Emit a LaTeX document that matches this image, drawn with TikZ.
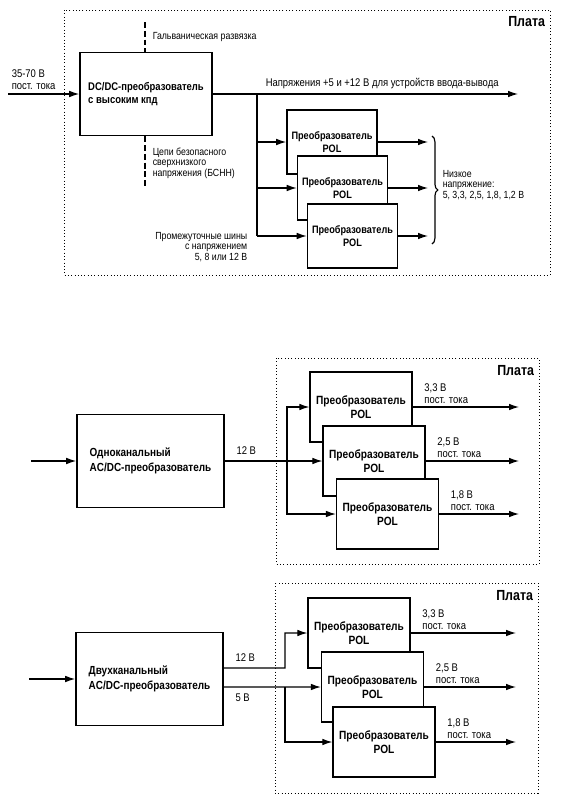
\documentclass[tikz,border=0pt]{standalone}
\usepackage{fontspec}
\setmainfont[FakeStretch=0.85]{Liberation Sans}
\usetikzlibrary{arrows.meta, positioning, decorations.pathreplacing}

\begin{document}
\begin{tikzpicture}[x=0.3mm,y=-0.3mm,line width=1pt,>={Latex[length=3mm,width=2mm]}]
  \tikzstyle{plata}=[draw,dotted,line width=0.8pt]
  \tikzstyle{platalabel}=[anchor=north east,inner sep=2pt,font=\bfseries\fontsize{12.5}{13}\selectfont]
  \tikzstyle{conv}=[draw,line width=1.4pt,fill=white,align=center,inner sep=2pt]
  \tikzstyle{pol}=[conv,font=\bfseries\fontsize{10.2}{12.5}\selectfont,minimum width=30.5mm,minimum height=21mm]
  \tikzstyle{polsmall}=[conv,font=\bfseries\fontsize{9.2}{10.5}\selectfont,minimum width=27mm,minimum height=19.2mm]
  \tikzstyle{acdc}=[conv,align=left,font=\bfseries\fontsize{10}{13}\selectfont,minimum width=44.1mm,minimum height=27.9mm]
  \tikzstyle{note}=[font=\fontsize{9.5}{10}\selectfont,align=left,inner sep=1pt]
  \tikzstyle{tiny}=[font=\fontsize{8.8}{9}\selectfont,align=left,inner sep=1pt]
  \tikzstyle{isolation}=[line width=1pt,dash pattern=on 5pt off 2.5pt]

  \useasboundingbox (0,0) rectangle (564,800);

  % board with DC/DC converter
  \draw[plata] (64,10) rectangle (550,275);
  \node[platalabel] (plata0) at (548,13) {Плата};

  \node[conv,align=left,font=\bfseries\fontsize{9.5}{10.5}\selectfont,
        minimum width=39.6mm,minimum height=24.9mm] (dcdc) at (146,94)
        {DC/DC-преобразователь\\с высоким кпд};
  \coordinate (in0) at (8,94);
  \draw[->] (in0) -- (dcdc);
  \node[note,anchor=south west] (vin) at (10,91) {35-70 В\\пост. тока};

  \coordinate (io) at (518,94);
  \draw[->] (dcdc) -- (io);
  \node[note,anchor=south west] (iotext) at (264,91)
        {Напряжения +5 и +12 В для устройств ввода-вывода};

  \coordinate (gal) at (145,22);
  \coordinate (safe) at (145,187);
  \draw[isolation] (gal) -- (gal |- dcdc.north);
  \draw[isolation] (safe |- dcdc.south) -- (safe);
  \node[tiny,anchor=west] (galtext) at (151,37) {Гальваническая развязка};
  \node[tiny,anchor=north west] (safetext) at (151,146)
        {Цепи безопасного\\сверхнизкого\\напряжения (БСНН)};

  \node[polsmall] (pa1) at (332,142)   {Преобразователь\\POL};
  \node[polsmall] (pa2) at (342.5,188) {Преобразователь\\POL};
  \node[polsmall] (pa3) at (352.5,236) {Преобразователь\\POL};

  \coordinate (b0) at (257,94);
  \coordinate (b1) at (257,142);
  \coordinate (b2) at (257,188);
  \coordinate (b3) at (257,236);
  \draw (b0) -- (b3);
  \coordinate (oa1) at (428,142);
  \coordinate (oa2) at (428,188);
  \coordinate (oa3) at (428,236);

  \path[->]
  (b1)  edge (pa1)
  (b2)  edge (pa2)
  (b3)  edge (pa3)
  (pa1) edge (oa1)
  (pa2) edge (oa2)
  (pa3) edge (oa3)
  ;

  \coordinate (br1) at (432,136);
  \coordinate (br2) at (432,244);
  \draw[decorate,decoration={brace,amplitude=5pt}] (br1) -- (br2);
  \node[tiny,anchor=west] (low) at (441,185)
        {Низкое\\напряжение:\\5, 3,3, 2,5, 1,8, 1,2 В};
  \node[tiny,anchor=east,align=right] (buses) at (249,247)
        {Промежуточные шины\\с напряжением\\5, 8 или 12 В};

  % single-channel AC/DC
  \draw[plata] (276,358) rectangle (539,564);
  \node[platalabel] (plata1) at (537,362) {Плата};

  \node[acdc] (acdc1) at (150.5,461) {Одноканальный\\AC/DC-преобразователь};
  \coordinate (in1) at (31,461);
  \draw[->] (in1) -- (acdc1);

  \node[pol] (pb1) at (361,407)   {Преобразователь\\POL};
  \node[pol] (pb2) at (374,461)   {Преобразователь\\POL};
  \node[pol] (pb3) at (387.5,514) {Преобразователь\\POL};

  \coordinate (mb) at (287,461);
  \coordinate (ob1) at (519,407);
  \coordinate (ob2) at (519,461);
  \coordinate (ob3) at (519,514);

  \draw[->] (acdc1) -- (pb2);
  \draw[->] (mb) |- (pb1);
  \draw[->] (mb) |- (pb3);
  \path[->]
  (pb1) edge (ob1)
  (pb2) edge (ob2)
  (pb3) edge (ob3)
  ;
  \node[note,above right=1.5mm and 3mm of acdc1.east] (v12a) {12 В};
  \node[note,above right=0.6mm and 3mm of pb1.east] (u33a) {3,3 В\\пост. тока};
  \node[note,above right=0.6mm and 3mm of pb2.east] (u25a) {2,5 В\\пост. тока};
  \node[note,above right=0.6mm and 3mm of pb3.east] (u18a) {1,8 В\\пост. тока};

  % dual-channel AC/DC
  \draw[plata] (275,583) rectangle (538,793);
  \node[platalabel] (plata2) at (536,587) {Плата};

  \node[acdc] (acdc2) at (149.5,679) {Двухканальный\\AC/DC-преобразователь};
  \coordinate (in2) at (29,679);
  \draw[->] (in2) -- (acdc2);

  \node[pol] (pc1) at (359,633)   {Преобразователь\\POL};
  \node[pol] (pc2) at (372.5,687) {Преобразователь\\POL};
  \node[pol] (pc3) at (384,742)   {Преобразователь\\POL};

  \coordinate (s12) at (285,668);
  \coordinate (s5) at (285,687);
  \coordinate (oc1) at (516,633);
  \coordinate (oc2) at (516,687);
  \coordinate (oc3) at (516,742);

  \draw[->] ([yshift=3.3mm]acdc2.east) -- (s12) |- (pc1);
  \draw[->] ([yshift=-2.4mm]acdc2.east) -- (pc2);
  \draw[->] (s5) |- (pc3);
  \path[->]
  (pc1) edge (oc1)
  (pc2) edge (oc2)
  (pc3) edge (oc3)
  ;
  \node[note,above right=1.5mm and 3mm of {[yshift=3.3mm]acdc2.east}] (v12b) {12 В};
  \node[note,below right=1.5mm and 3mm of {[yshift=-2.4mm]acdc2.east}] (v5b) {5 В};
  \node[note,above right=0.6mm and 3mm of pc1.east] (u33b) {3,3 В\\пост. тока};
  \node[note,above right=0.6mm and 3mm of pc2.east] (u25b) {2,5 В\\пост. тока};
  \node[note,above right=0.6mm and 3mm of pc3.east] (u18b) {1,8 В\\пост. тока};
\end{tikzpicture}
\end{document}
